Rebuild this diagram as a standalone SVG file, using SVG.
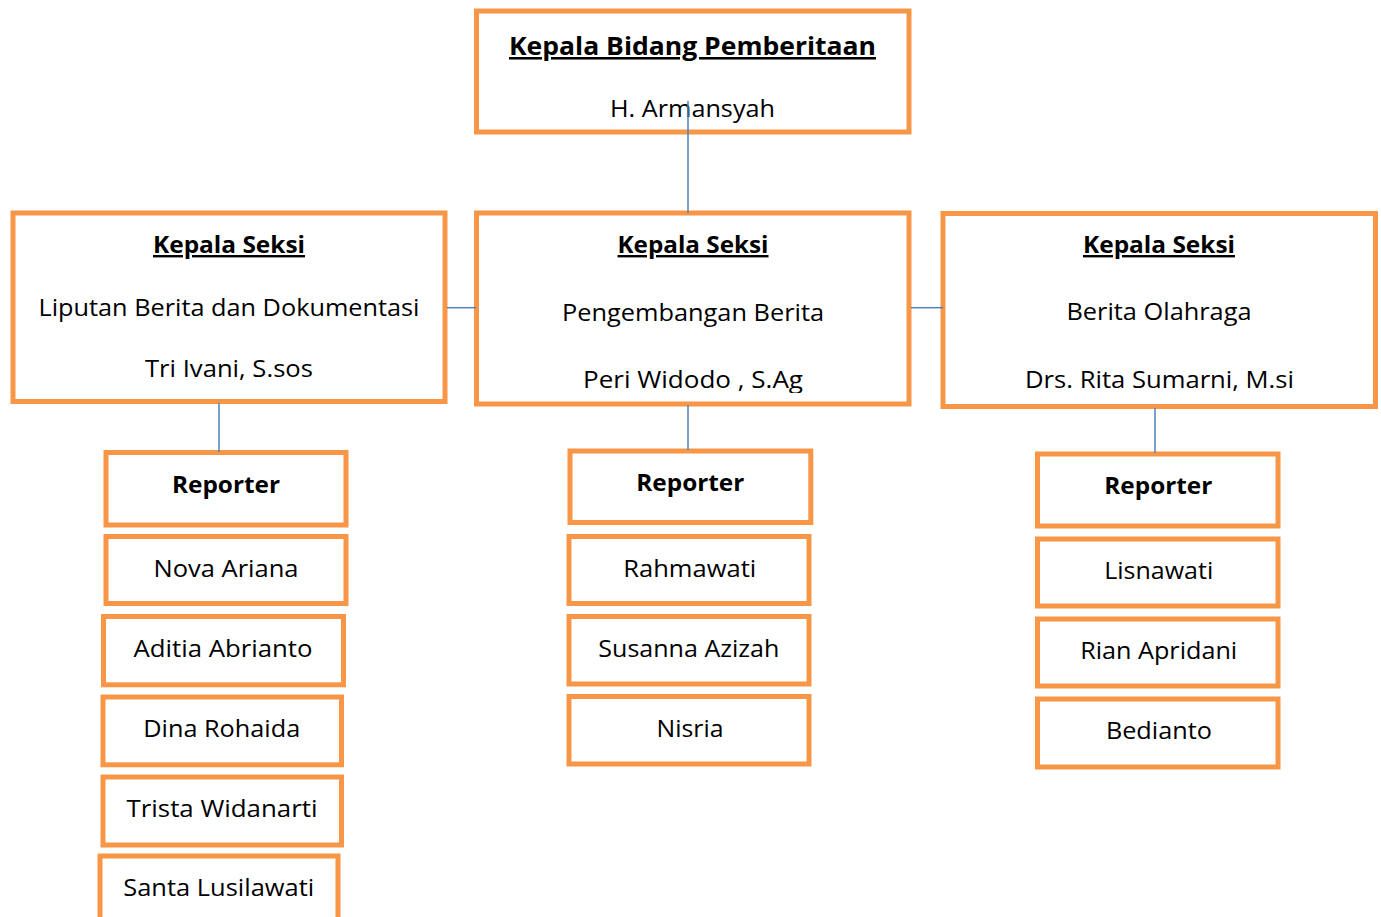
<svg xmlns="http://www.w3.org/2000/svg" width="1381" height="917" viewBox="0 0 1381 917">
<style>
.box{fill:#fff;stroke:#F79646;stroke-width:5}
.t{font-family:"Open Sans","Liberation Sans",sans-serif;font-size:24px;fill:#000;text-anchor:middle}
.b{font-weight:bold}
.u{font-weight:bold;text-decoration:underline}
.big{font-size:25.5px}
.c{stroke:#4F81BD;stroke-width:1.5;fill:none}
</style>
<defs>
<clipPath id="clipMid"><rect x="476" y="213" width="434" height="180"/></clipPath>
</defs>
<rect width="1381" height="917" fill="#fff"/>
<g id="kepala-bidang">
<rect class="box" x="476.5" y="11" width="432.5" height="121"/>
<text class="t u big" x="692.5" y="55" textLength="367" lengthAdjust="spacingAndGlyphs">Kepala Bidang Pemberitaan</text>
<text class="t" x="692.5" y="117" textLength="165" lengthAdjust="spacingAndGlyphs">H. Armansyah</text>
</g>
<g id="seksi-liputan">
<rect class="box" x="13" y="213" width="432" height="188.5"/>
<text class="t u" x="229" y="253" textLength="152" lengthAdjust="spacingAndGlyphs">Kepala Seksi</text>
<text class="t" x="229" y="316" textLength="381" lengthAdjust="spacingAndGlyphs">Liputan Berita dan Dokumentasi</text>
<text class="t" x="229" y="377" textLength="168" lengthAdjust="spacingAndGlyphs">Tri Ivani, S.sos</text>
</g>
<g id="seksi-pengembangan">
<rect class="box" x="476.5" y="213" width="432.5" height="191"/>
<text class="t u" x="693" y="253" textLength="151" lengthAdjust="spacingAndGlyphs">Kepala Seksi</text>
<text class="t" x="693" y="321" textLength="262" lengthAdjust="spacingAndGlyphs">Pengembangan Berita</text>
<text class="t" x="693" y="388" textLength="220" lengthAdjust="spacingAndGlyphs" clip-path="url(#clipMid)">Peri Widodo , S.Ag</text>
</g>
<g id="seksi-olahraga">
<rect class="box" x="943" y="213.5" width="432.5" height="193"/>
<text class="t u" x="1159" y="253" textLength="152" lengthAdjust="spacingAndGlyphs">Kepala Seksi</text>
<text class="t" x="1159" y="320" textLength="185" lengthAdjust="spacingAndGlyphs">Berita Olahraga</text>
<text class="t" x="1159.5" y="388" textLength="269" lengthAdjust="spacingAndGlyphs">Drs. Rita Sumarni, M.si</text>
</g>
<g id="reporter-left">
<rect class="box" x="106" y="452.5" width="240" height="72.5"/>
<text class="t b" x="226" y="493" textLength="108" lengthAdjust="spacingAndGlyphs">Reporter</text>
</g>
<g id="nova-ariana">
<rect class="box" x="106" y="536.5" width="240" height="67"/>
<text class="t" x="226" y="577" textLength="145" lengthAdjust="spacingAndGlyphs">Nova Ariana</text>
</g>
<g id="aditia-abrianto">
<rect class="box" x="103.5" y="616.5" width="240" height="68.3"/>
<text class="t" x="223" y="657" textLength="179" lengthAdjust="spacingAndGlyphs">Aditia Abrianto</text>
</g>
<g id="dina-rohaida">
<rect class="box" x="103" y="697" width="238.5" height="67.8"/>
<text class="t" x="221.7" y="737" textLength="157" lengthAdjust="spacingAndGlyphs">Dina Rohaida</text>
</g>
<g id="trista-widanarti">
<rect class="box" x="103" y="777" width="238.5" height="68"/>
<text class="t" x="222" y="817" textLength="191" lengthAdjust="spacingAndGlyphs">Trista Widanarti</text>
</g>
<g id="santa-lusilawati">
<rect class="box" x="100" y="856" width="238" height="80"/>
<text class="t" x="218.7" y="896" textLength="191" lengthAdjust="spacingAndGlyphs">Santa Lusilawati</text>
</g>
<g id="reporter-mid">
<rect class="box" x="570" y="451" width="240.8" height="71.5"/>
<text class="t b" x="690.3" y="491" textLength="108" lengthAdjust="spacingAndGlyphs">Reporter</text>
</g>
<g id="rahmawati">
<rect class="box" x="569" y="536.5" width="240" height="67"/>
<text class="t" x="689.7" y="577" textLength="133" lengthAdjust="spacingAndGlyphs">Rahmawati</text>
</g>
<g id="susanna-azizah">
<rect class="box" x="569" y="616.5" width="240" height="67.5"/>
<text class="t" x="688.8" y="657" textLength="181" lengthAdjust="spacingAndGlyphs">Susanna Azizah</text>
</g>
<g id="nisria">
<rect class="box" x="569" y="696.5" width="240" height="67.5"/>
<text class="t" x="690" y="737" textLength="67" lengthAdjust="spacingAndGlyphs">Nisria</text>
</g>
<g id="reporter-right">
<rect class="box" x="1037.5" y="454" width="240.5" height="72"/>
<text class="t b" x="1158.3" y="494" textLength="108" lengthAdjust="spacingAndGlyphs">Reporter</text>
</g>
<g id="lisnawati">
<rect class="box" x="1037.5" y="539" width="240.5" height="67"/>
<text class="t" x="1158.7" y="578.5" textLength="109" lengthAdjust="spacingAndGlyphs">Lisnawati</text>
</g>
<g id="rian-apridani">
<rect class="box" x="1037.5" y="619" width="240.5" height="67"/>
<text class="t" x="1158.7" y="658.5" textLength="157" lengthAdjust="spacingAndGlyphs">Rian Apridani</text>
</g>
<g id="bedianto">
<rect class="box" x="1037.5" y="699" width="240.5" height="68"/>
<text class="t" x="1158.9" y="738.5" textLength="106" lengthAdjust="spacingAndGlyphs">Bedianto</text>
</g>
<g id="connectors">
<line class="c" x1="688" y1="101" x2="688" y2="213"/>
<line class="c" x1="447" y1="307.7" x2="476" y2="307.7"/>
<line class="c" x1="911" y1="307.7" x2="943" y2="307.7"/>
<line class="c" x1="219" y1="403" x2="219" y2="452"/>
<line class="c" x1="688" y1="405" x2="688" y2="450"/>
<line class="c" x1="1155" y1="408" x2="1155" y2="453"/>
</g>
</svg>
